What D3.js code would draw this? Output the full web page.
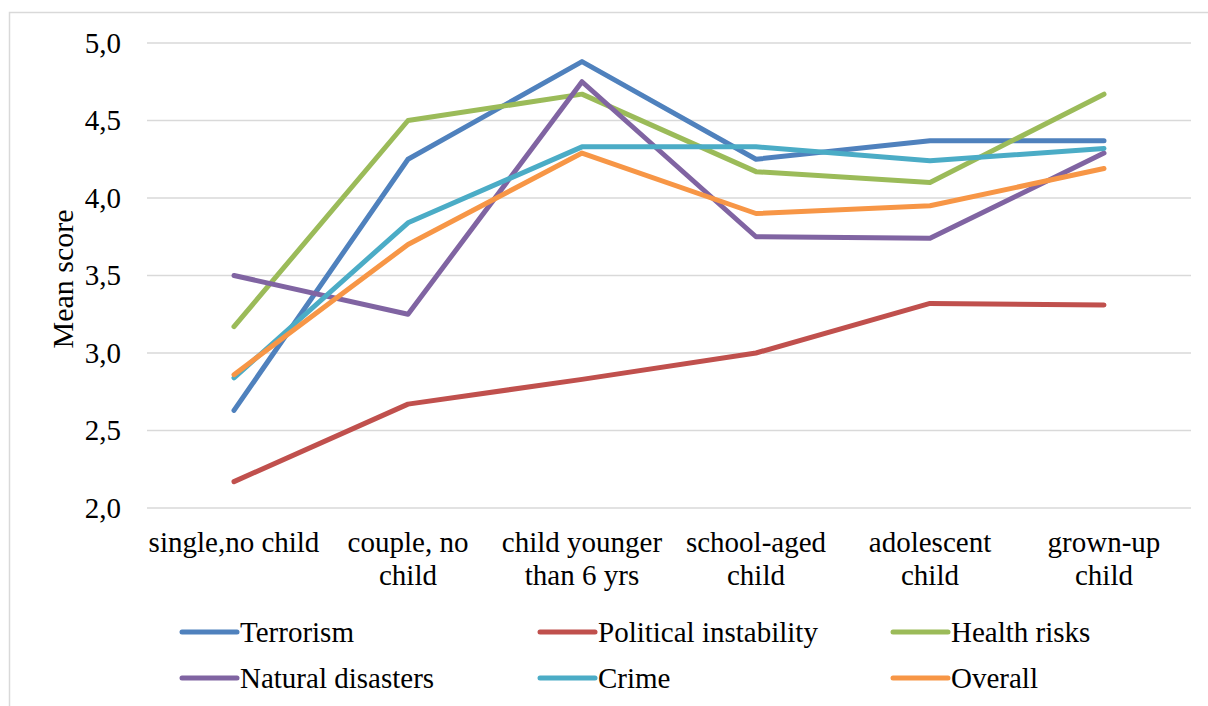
<!DOCTYPE html>
<html>
<head>
<meta charset="utf-8">
<script src="https://cdn.jsdelivr.net/npm/d3@7"></script>
<style>
  html, body { margin: 0; padding: 0; background: #ffffff; }
</style>
</head>
<body>
<svg id="chart" width="1208" height="706"></svg>
<script>
// Household stage categories (x axis)
const categories = [
  ["single,no child"],
  ["couple, no", "child"],
  ["child younger", "than 6 yrs"],
  ["school-aged", "child"],
  ["adolescent", "child"],
  ["grown-up", "child"]
];

// Mean risk-perception scores per series
const terrorism   = [2.63, 4.25, 4.88, 4.25, 4.37, 4.37];
const political   = [2.17, 2.67, 2.83, 3.00, 3.32, 3.31];
const health      = [3.17, 4.50, 4.67, 4.17, 4.10, 4.67];
const natural     = [3.50, 3.25, 4.75, 3.75, 3.74, 4.29];
const crime       = [2.84, 3.84, 4.33, 4.33, 4.24, 4.32];
const overall     = [2.86, 3.70, 4.29, 3.90, 3.95, 4.19];

const seriesNames  = ["Terrorism", "Political instability", "Health risks", "Natural disasters", "Crime", "Overall"];
const seriesValues = [terrorism, political, health, natural, crime, overall];
const seriesColors = ["#4F81BD", "#C0504D", "#9BBB59", "#8064A2", "#4BACC6", "#F79646"];

const yTicks = [2.0, 2.5, 3.0, 3.5, 4.0, 4.5, 5.0];

const FONT = "'Liberation Serif', 'Times New Roman', Tinos, 'DejaVu Serif', serif";

const svg = d3.select("#chart");

// chart frame
svg.append("rect")
  .attr("x", 9.5).attr("y", 12.5)
  .attr("width", 1220).attr("height", 720)
  .attr("fill", "none")
  .attr("stroke", "#d9d9d9")
  .attr("stroke-width", 1.5);

const plot = { left: 147, right: 1191, top: 43, bottom: 508 };

const x = d3.scaleBand()
  .domain(d3.range(categories.length))
  .range([plot.left, plot.right])
  .padding(0);

const y = d3.scaleLinear()
  .domain([2, 5])
  .range([plot.bottom, plot.top]);

const cx = i => x(i) + x.bandwidth() / 2;

// horizontal gridlines
svg.append("g")
  .selectAll("line")
  .data(yTicks)
  .join("line")
  .attr("x1", plot.left).attr("x2", plot.right)
  .attr("y1", d => y(d)).attr("y2", d => y(d))
  .attr("stroke", "#d9d9d9")
  .attr("stroke-width", 1.5);

// y tick labels (comma decimal)
svg.append("g")
  .selectAll("text")
  .data(yTicks)
  .join("text")
  .attr("x", 121)
  .attr("y", d => y(d))
  .attr("dy", "0.34em")
  .attr("text-anchor", "end")
  .attr("font-family", FONT)
  .attr("font-size", 29)
  .text(d => d.toFixed(1).replace(".", ","));

// y axis title
svg.append("text")
  .attr("transform", "translate(73,279) rotate(-90)")
  .attr("text-anchor", "middle")
  .attr("font-family", FONT)
  .attr("font-size", 30)
  .text("Mean score");

// category labels
const catG = svg.append("g");
categories.forEach((lines, i) => {
  const t = catG.append("text")
    .attr("text-anchor", "middle")
    .attr("font-family", FONT)
    .attr("font-size", 29);
  lines.forEach((ln, j) => {
    t.append("tspan")
      .attr("x", cx(i))
      .attr("y", 552 + j * 33)
      .text(ln);
  });
});

// series lines
const line = d3.line()
  .x((d, i) => cx(i))
  .y(d => y(d));

svg.append("g")
  .selectAll("path")
  .data(seriesValues)
  .join("path")
  .attr("d", d => line(d))
  .attr("fill", "none")
  .attr("stroke", (d, i) => seriesColors[i])
  .attr("stroke-width", 5)
  .attr("stroke-linecap", "round")
  .attr("stroke-linejoin", "round");

// legend: 3 columns x 2 rows
const legCols = [182, 540, 893];
const legRows = [632, 678];
const leg = svg.append("g");
seriesNames.forEach((name, i) => {
  const lx = legCols[i % 3];
  const ly = legRows[Math.floor(i / 3)];
  leg.append("line")
    .attr("x1", lx).attr("x2", lx + 55)
    .attr("y1", ly).attr("y2", ly)
    .attr("stroke", seriesColors[i])
    .attr("stroke-width", 5)
    .attr("stroke-linecap", "round");
  leg.append("text")
    .attr("x", lx + 58)
    .attr("y", ly)
    .attr("dy", "0.34em")
    .attr("font-family", FONT)
    .attr("font-size", 29)
    .text(name);
});
</script>
</body>
</html>
